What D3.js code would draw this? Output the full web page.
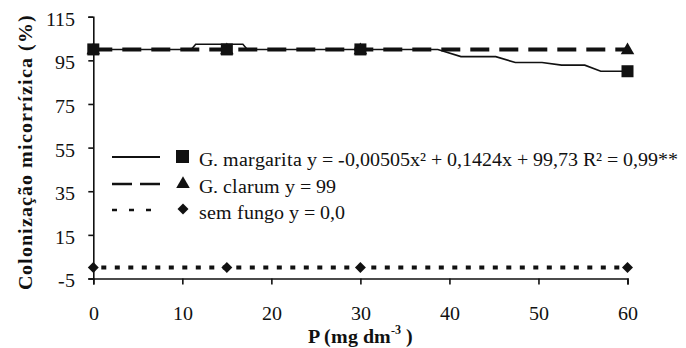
<!DOCTYPE html>
<html>
<head>
<meta charset="utf-8">
<script src="https://cdn.jsdelivr.net/npm/d3@7"></script>
<style>
    @font-face { font-family: 'RefSerif'; src: local('Liberation Serif'), local('LiberationSerif'); font-weight: normal; }
    @font-face { font-family: 'RefSerif'; src: local('Liberation Serif Bold'), local('LiberationSerif-Bold'); font-weight: bold; }
</style>
</head>
<body style="margin:0">
<svg width="686" height="348"></svg>
<script>
// measured points (P in mg dm-3)
const pLevels = [0, 15, 30, 60];
const margarita = [100, 100, 100, 90];
const clarum = [100, 100, 100, 100];
const semFungo = [0, 0, 0, 0];

// fitted curve for G. margarita
const trendX = [0, 11, 11.5, 16.8, 17.3, 38.7, 41.3, 45.2, 47.4, 50.4, 52.6, 55.2, 57, 60];
const trendY = [100, 100, 102.4, 102.4, 100, 100, 96.7, 96.7, 94, 94, 92.8, 92.8, 90, 90];

const xTicks = [0, 10, 20, 30, 40, 50, 60];
const yTicks = [-5, 15, 35, 55, 75, 95, 115];

const legendLabels = [
    'G. margarita y = -0,00505x² + 0,1424x + 99,73 R² = 0,99**',
    'G. clarum y = 99',
    'sem fungo y = 0,0'
];

let svg = d3.select('svg');
let ink = '#111';
let face = "'RefSerif', 'Liberation Serif', 'Times New Roman'";

let x = d3.scaleLinear().domain([0, 60]).range([93.3, 627.5]);
let y = d3.scaleLinear().domain([-5, 115]).range([278.5, 16.7]);

// axes
let xAxis = svg.append('g')
    .attr('transform', `translate(0,${y(-5)})`)
    .call(d3.axisBottom(x).tickValues(xTicks).tickFormat(d => String(d)).tickSize(6).tickPadding(21));
let yAxis = svg.append('g')
    .attr('transform', `translate(${x(0)},0)`)
    .call(d3.axisLeft(y).tickValues(yTicks).tickFormat(d => String(d)).tickSize(5).tickPadding(13));

[xAxis, yAxis].forEach(a => {
    a.selectAll('path, line').attr('stroke', ink).attr('stroke-width', 1.6);
    a.selectAll('text').attr('fill', ink).attr('font-size', 20)
        .style('font-family', face);
});
yAxis.selectAll('text').attr('dy', '0.42em');

// series lines
let line = d3.line().x(d => x(d[0])).y(d => y(d[1]));

svg.append('path')
    .datum(pLevels.map((p, i) => [p, semFungo[i]]))
    .attr('d', line)
    .attr('fill', 'none')
    .attr('stroke', ink)
    .attr('stroke-width', 4)
    .attr('stroke-dasharray', '5,8.5')
    .attr('stroke-dashoffset', -8);

svg.append('path')
    .datum(pLevels.map((p, i) => [p, clarum[i]]))
    .attr('d', line)
    .attr('fill', 'none')
    .attr('stroke', ink)
    .attr('stroke-width', 4)
    .attr('stroke-dasharray', '19,10');

svg.append('path')
    .datum(trendX.map((p, i) => [p, trendY[i]]))
    .attr('d', line)
    .attr('fill', 'none')
    .attr('stroke', ink)
    .attr('stroke-width', 1.6);

// markers
let tri = d3.symbol().type(d3.symbolTriangle).size(80);
let dia = d3.symbol().type(d3.symbolSquare).size(60);

svg.append('g').selectAll('path')
    .data(pLevels.map((p, i) => [p, semFungo[i]]))
    .enter()
    .append('path')
    .attr('d', dia)
    .attr('fill', ink)
    .attr('transform', d => `translate(${x(d[0])},${y(d[1])}) rotate(45)`);

svg.append('g').selectAll('path')
    .data(pLevels.map((p, i) => [p, clarum[i]]))
    .enter()
    .append('path')
    .attr('d', tri)
    .attr('fill', ink)
    .attr('transform', d => `translate(${x(d[0])},${y(d[1]) + 1})`);

svg.append('g').selectAll('rect')
    .data(pLevels.map((p, i) => [p, margarita[i]]))
    .enter()
    .append('rect')
    .attr('x', d => x(d[0]) - 6)
    .attr('y', d => y(d[1]) - 6)
    .attr('width', 12)
    .attr('height', 12)
    .attr('fill', ink);

// legend
let legendY = [157, 184, 210];
let legendDash = [null, '20,8', '5,12'];
let legend = svg.append('g');

legendLabels.forEach((label, i) => {
    let row = legend.append('g').attr('transform', `translate(0,${legendY[i]})`);
    row.append('line')
        .attr('x1', 112).attr('x2', 160)
        .attr('stroke', ink)
        .attr('stroke-width', i === 0 ? 1.8 : 2.4)
        .attr('stroke-dasharray', legendDash[i]);
    if (i === 0) {
        row.append('rect').attr('x', 176).attr('y', -7).attr('width', 13).attr('height', 13).attr('fill', ink);
    } else if (i === 1) {
        row.append('path').attr('d', tri).attr('fill', ink)
            .attr('transform', 'translate(183,0)');
    } else {
        row.append('path').attr('d', dia).attr('fill', ink)
            .attr('transform', 'translate(183,-1) rotate(45)');
    }
    row.append('text')
        .attr('x', 199)
        .attr('y', 3)
        .attr('dy', '0.32em')
        .attr('font-size', 20)
        .attr('fill', ink)
        .style('font-family', face)
        .text(label);
});

// axis titles
let xTitle = svg.append('text')
    .attr('x', x(30))
    .attr('y', 343)
    .attr('text-anchor', 'middle')
    .attr('font-size', 20)
    .attr('font-weight', 'bold')
    .attr('fill', ink)
    .style('font-family', face);
xTitle.append('tspan').text('P (mg dm');
xTitle.append('tspan').attr('font-size', 12).attr('dy', -9).text('-3');
xTitle.append('tspan').attr('dy', 9).text(' )');

svg.append('text')
    .attr('transform', 'translate(32,152) rotate(-90)')
    .attr('text-anchor', 'middle')
    .attr('font-size', 20)
    .attr('font-weight', 'bold')
    .attr('letter-spacing', 1)
    .attr('fill', ink)
    .style('font-family', face)
    .text('Colonização micorrízica (%)');
</script>
</body>
</html>
